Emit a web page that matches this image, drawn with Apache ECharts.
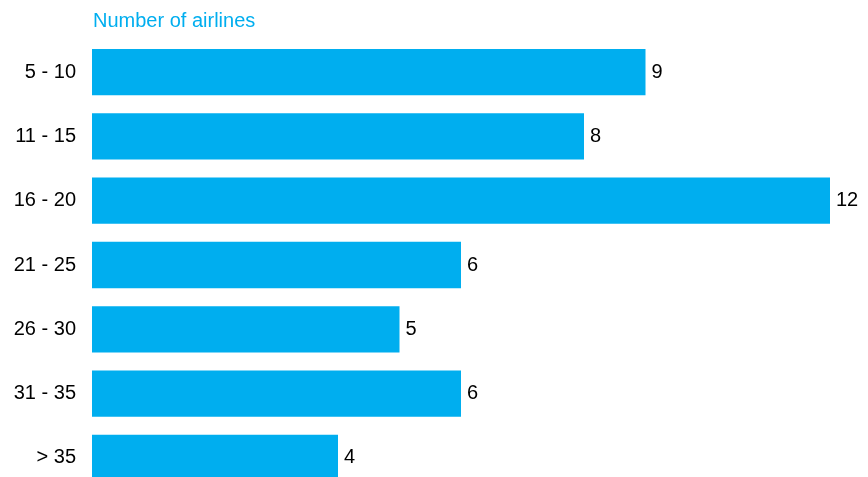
<!DOCTYPE html>
<html><head><meta charset="utf-8">
<script src="https://cdn.jsdelivr.net/npm/echarts@6/dist/echarts.min.js"></script>
<style>html,body{margin:0;padding:0;background:#fff}#c{width:868px;height:477px}</style>
</head><body><div id="c"></div>
<script>
const categories = ['5 - 10','11 - 15','16 - 20','21 - 25','26 - 30','31 - 35','> 35'];
const values = [9, 8, 12, 6, 5, 6, 4];
const axisTitle = 'Number of airlines';

const FONT = 'Liberation Sans, Arial, sans-serif';
const chart = echarts.init(document.getElementById('c'));
chart.setOption({
  animation: false,
  backgroundColor: '#fff',
  title: {
    text: axisTitle, left: 93, top: 11, padding: 0,
    textStyle: { color: '#00AEEF', fontSize: 20, fontWeight: 'normal', fontFamily: FONT }
  },
  grid: { left: 92, right: 38, top: 40, bottom: -13, outerBoundsMode: 'none', containLabel: false },
  xAxis: { type: 'value', min: 0, max: 12, show: false },
  yAxis: {
    type: 'category', data: categories, inverse: true,
    axisLine: { show: false },
    axisTick: { show: false },
    axisLabel: { color: '#000', fontSize: 20, margin: 16, fontFamily: FONT }
  },
  series: [{
    type: 'bar', data: values, barCategoryGap: '28%',
    itemStyle: { color: '#00AEEF' },
    label: { show: true, position: 'right', distance: 6, color: '#000', fontSize: 20, fontFamily: FONT }
  }]
});
</script></body></html>
